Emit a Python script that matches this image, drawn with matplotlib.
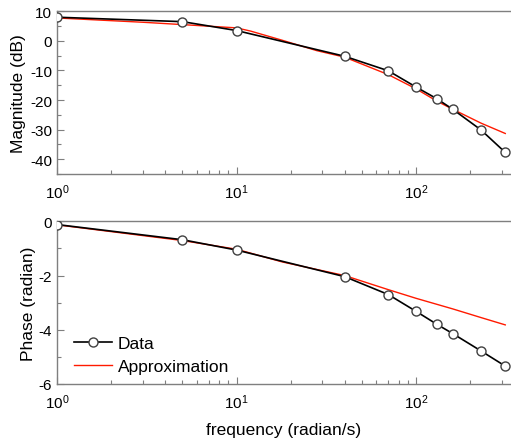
import matplotlib
matplotlib.use("Agg")
import matplotlib.pyplot as plt
from matplotlib.ticker import LogLocator, MultipleLocator, NullFormatter

plt.rcParams['font.family'] = ['Liberation Sans', 'DejaVu Sans']
plt.rcParams['mathtext.fontset'] = 'custom'
plt.rcParams['mathtext.rm'] = 'Liberation Sans'
plt.rcParams['mathtext.it'] = 'Liberation Sans'
plt.rcParams['axes.unicode_minus'] = False

# Measured data
freq = [1, 5, 10, 40, 70, 100, 130, 160, 230, 314]
mag_data = [8.0, 6.5, 3.5, -5.2, -10.1, -15.6, -19.5, -23.1, -30.1, -37.7]
phase_data = [-0.12, -0.68, -1.06, -2.04, -2.70, -3.32, -3.79, -4.14, -4.78, -5.34]

# Approximation curves
approx_freq_mag = [1, 3, 5, 10, 12, 18, 28, 40, 70, 100, 130, 160, 230, 314]
approx_mag = [7.75, 6.3, 5.5, 4.4, 3.3, 0.2, -3.3, -5.5, -11.4, -16.2, -20.3, -23.1, -27.8, -31.3]
approx_freq_ph = [1, 5, 10, 18, 40, 70, 100, 160, 230, 314]
approx_phase = [-0.13, -0.71, -1.03, -1.50, -2.0, -2.52, -2.84, -3.23, -3.55, -3.82]

W, H = 511, 439
fig = plt.figure(figsize=(W / 100, H / 100), dpi=100)

left = 57 / W
width = (511 - 57) / W
ax1 = fig.add_axes([left, 1 - 175 / H, width, (175 - 12.3) / H])
ax2 = fig.add_axes([left, 1 - 385 / H, width, (385 - 222.3) / H])

spine_col = '#7f7f7f'
for ax in (ax1, ax2):
    ax.set_xscale('log')
    ax.set_xlim(1, 338)
    ax.xaxis.set_major_locator(LogLocator(base=10))
    ax.xaxis.set_minor_locator(LogLocator(base=10, subs=range(2, 10)))
    ax.xaxis.set_minor_formatter(NullFormatter())
    for s in ax.spines.values():
        s.set_color(spine_col)
        s.set_linewidth(1.0)
    ax.spines['right'].set_visible(False)
    ax.tick_params(which='both', direction='in', color=spine_col, top=False, right=False,
                   labelsize=11, labelcolor='black')
    ax.tick_params(which='major', length=5, width=0.8)
    ax.tick_params(which='minor', length=3, width=0.8)
    ax.tick_params(axis='x', pad=6)

# Magnitude
ax1.plot(freq, mag_data, color='black', lw=1.2, marker='o', ms=6.5,
         mfc='white', mec='#404040', mew=1.0, zorder=3)
ax1.plot(approx_freq_mag, approx_mag, color='#ff1a00', lw=1.0, zorder=2)
ax1.set_ylim(-45, 10)
ax1.yaxis.set_major_locator(MultipleLocator(10))
ax1.yaxis.set_minor_locator(MultipleLocator(5))
ax1.set_ylabel('Magnitude (dB)', fontsize=12.5, labelpad=3)

# Phase
ax2.plot(freq, phase_data, color='black', lw=1.2, marker='o', ms=6.5,
         mfc='white', mec='#404040', mew=1.0, zorder=3, label='Data')
ax2.plot(approx_freq_ph, approx_phase, color='#ff1a00', lw=1.0, zorder=2,
         label='Approximation')
ax2.set_ylim(-6, 0)
ax2.yaxis.set_major_locator(MultipleLocator(2))
ax2.yaxis.set_minor_locator(MultipleLocator(1))
ax2.set_ylabel('Phase (radian)', fontsize=12.5, labelpad=2)
ax2.set_xlabel('frequency (radian/s)', fontsize=12.5, labelpad=8)
ax2.legend(loc='lower left', frameon=False, fontsize=12.5, handlelength=2.2,
           handletextpad=0.35, borderaxespad=0.3, labelspacing=0.45,
           bbox_to_anchor=(0.01, -0.015))

fig.savefig('out.png', dpi=100)
